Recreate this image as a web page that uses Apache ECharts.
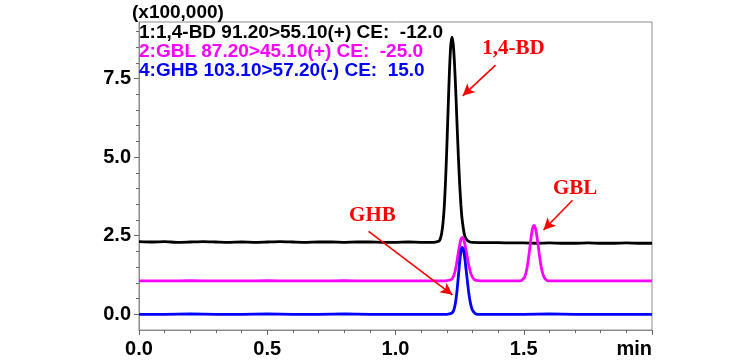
<!DOCTYPE html>
<html><head><meta charset="utf-8">
<script src="https://cdn.jsdelivr.net/npm/echarts@6/dist/echarts.min.js"></script>
<style>html,body{margin:0;padding:0;background:#fff}#c{width:756px;height:360px}</style>
</head><body><div id="c"></div>
<script>
// ---- data (time in min, intensity in x100,000) ----
const bdTrace = [[0,2.31],[0.05,2.30],[0.1,2.31],[0.15,2.29],[0.2,2.30],[0.25,2.31],[0.3,2.30],[0.35,2.29],[0.4,2.30],[0.45,2.29],[0.5,2.30],[0.55,2.31],[0.6,2.30],[0.65,2.29],[0.7,2.30],[0.75,2.30],[0.8,2.29],[0.85,2.30],[0.9,2.30],[0.95,2.29],[1.0,2.29],[1.05,2.30],[1.1,2.29],[1.15,2.29],[1.17,2.33],[1.175,2.41],[1.18,2.58],[1.185,2.89],[1.19,3.41],[1.195,4.22],[1.2,5.28],[1.205,6.50],[1.21,7.66],[1.215,8.51],[1.22,8.82],[1.225,8.60],[1.23,7.98],[1.235,7.08],[1.24,6.04],[1.245,5.04],[1.25,4.17],[1.255,3.48],[1.26,3.00],[1.27,2.49],[1.28,2.35],[1.29,2.30],[1.3,2.29],[1.35,2.28],[1.4,2.28],[1.45,2.27],[1.5,2.27],[1.55,2.26],[1.6,2.27],[1.65,2.26],[1.7,2.26],[1.75,2.27],[1.8,2.26],[1.85,2.26],[1.9,2.27],[1.95,2.26],[2.0,2.26]];
const gblTrace = [[0,1.06],[0.1,1.06],[0.2,1.07],[0.3,1.06],[0.4,1.06],[0.5,1.07],[0.6,1.06],[0.7,1.06],[0.8,1.07],[0.9,1.06],[1.0,1.06],[1.1,1.06],[1.15,1.06],[1.2,1.07],[1.22,1.12],[1.225,1.19],[1.23,1.30],[1.235,1.47],[1.24,1.70],[1.245,1.96],[1.25,2.20],[1.255,2.38],[1.26,2.45],[1.265,2.40],[1.27,2.25],[1.275,2.04],[1.28,1.81],[1.285,1.59],[1.29,1.41],[1.295,1.27],[1.3,1.18],[1.31,1.09],[1.32,1.07],[1.35,1.06],[1.4,1.06],[1.45,1.06],[1.49,1.07],[1.5,1.14],[1.505,1.22],[1.51,1.36],[1.515,1.58],[1.52,1.87],[1.525,2.20],[1.53,2.52],[1.535,2.75],[1.54,2.83],[1.545,2.76],[1.55,2.55],[1.555,2.26],[1.56,1.95],[1.565,1.66],[1.57,1.43],[1.575,1.27],[1.58,1.17],[1.59,1.08],[1.6,1.06],[1.65,1.06],[1.7,1.06],[1.8,1.06],[1.9,1.06],[2.0,1.06]];
const ghbTrace = [[0,0.00],[0.1,0.00],[0.2,0.01],[0.3,0.00],[0.4,0.00],[0.5,0.01],[0.6,0.00],[0.7,0.00],[0.8,0.01],[0.9,0.00],[1.0,0.00],[1.1,0.00],[1.15,0.00],[1.2,0.00],[1.21,0.01],[1.22,0.04],[1.225,0.09],[1.23,0.21],[1.235,0.43],[1.24,0.77],[1.245,1.20],[1.25,1.65],[1.255,2.00],[1.26,2.13],[1.265,2.04],[1.27,1.79],[1.275,1.44],[1.28,1.07],[1.285,0.72],[1.29,0.45],[1.295,0.26],[1.3,0.13],[1.31,0.03],[1.32,0.00],[1.4,0.00],[1.5,0.00],[1.6,0.01],[1.7,0.00],[1.8,0.00],[1.9,0.00],[2.0,0.00]];
const yTickValues = [0, 2.5, 5.0, 7.5];
const yMinorValues = [0, 0.5, 1, 1.5, 2, 2.5, 3, 3.5, 4, 4.5, 5, 5.5, 6, 6.5, 7, 7.5, 8, 8.5, 9];
const xTickLabels = ['0.0', '0.5', '1.0', '1.5', 'min'];
const scaleText = '(x100,000)';
const channelLines = ['1:1,4-BD 91.20>55.10(+) CE:  -12.0', '2:GBL 87.20>45.10(+) CE:  -25.0', '4:GHB 103.10>57.20(-) CE:  15.0'];
const channelColors = ['#000000', '#ff00ff', '#0000ff'];
const annotations = [
  {name: '1,4-BD', text: [1.46, 8.44], from: [1.39, 7.93], to: [1.262, 6.95]},
  {name: 'GBL', text: [1.70, 4.0], from: [1.69, 3.63], to: [1.577, 2.68]},
  {name: 'GHB', text: [0.91, 3.15], from: [0.895, 2.64], to: [1.222, 0.62]}
];

const chart = echarts.init(document.getElementById('c'), null, {renderer: 'canvas'});
const F = '"Liberation Sans", Arial, sans-serif';
const FS = '"Liberation Serif", "Times New Roman", serif';

const markLineData = annotations.map(a => [
  {coord: a.from, symbol: 'none'},
  {coord: a.to, symbol: 'arrow', symbolSize: [9, 12]}
]);
const markPointData = annotations.map(a => ({coord: a.text, value: a.name}));

const option = {
  animation: false,
  backgroundColor: '#fff',
  grid: {left: 139, right: 104, top: 22, bottom: 30, show: true, borderColor: '#8c8c8c', borderWidth: 1, backgroundColor: 'transparent'},
  xAxis: {
    type: 'value', min: 0, max: 2, interval: 0.5,
    axisLine: {show: true, onZero: false, lineStyle: {color: '#8c8c8c', width: 1}},
    axisTick: {show: true, inside: false, length: 5, lineStyle: {color: '#666'}},
    minorTick: {show: true, splitNumber: 5, length: 3, lineStyle: {color: '#666'}},
    splitLine: {show: false},
    axisLabel: {
      show: true, showMaxLabel: true, showMinLabel: true, margin: 9, alignMaxLabel: 'right',
      color: '#000', fontFamily: F, fontWeight: 'bold', fontSize: 20,
      formatter: v => xTickLabels[Math.round(v / 0.5)]
    }
  },
  yAxis: [{
    type: 'value', min: -0.5, max: 9.3,
    axisLine: {show: true, onZero: false, lineStyle: {color: '#8c8c8c', width: 1}},
    axisTick: {show: true, length: 5, customValues: yTickValues, lineStyle: {color: '#666'}},
    splitLine: {show: false},
    axisLabel: {customValues: yTickValues, margin: 8, color: '#000', fontFamily: F, fontWeight: 'bold', fontSize: 20, formatter: v => v.toFixed(1)}
  }, {
    type: 'value', min: -0.5, max: 9.3, position: 'left',
    axisLine: {show: false},
    axisTick: {show: true, length: 3, customValues: yMinorValues, lineStyle: {color: '#666'}},
    splitLine: {show: false},
    axisLabel: {show: false}
  }],
  series: [
    {type: 'line', data: bdTrace, showSymbol: false, symbol: 'none', smooth: 0.2, lineStyle: {color: channelColors[0], width: 2.8}, z: 2},
    {type: 'line', data: gblTrace, showSymbol: false, symbol: 'none', smooth: 0.2, lineStyle: {color: channelColors[1], width: 2.8}, z: 3},
    {type: 'line', data: ghbTrace, showSymbol: false, symbol: 'none', smooth: 0.2, lineStyle: {color: channelColors[2], width: 2.8}, z: 4,
      markLine: {silent: true, animation: false, label: {show: false}, lineStyle: {color: '#ff0000', width: 1.6, type: 'solid'}, itemStyle: {color: '#ff0000'}, emphasis: {disabled: true}, data: markLineData},
      markPoint: {silent: true, symbol: 'circle', symbolSize: 0, data: markPointData,
        label: {show: true, position: 'inside', formatter: p => p.value, color: '#ff0000', fontFamily: FS, fontWeight: 'bold', fontSize: 21}}
    }
  ],
  graphic: [
    {type: 'text', left: 132, top: 3, style: {text: scaleText, fill: '#000', font: 'bold 19px ' + F}},
    ...channelLines.map((t, i) => ({type: 'text', left: 139, top: 23 + i * 19, style: {text: t, fill: channelColors[i], font: 'bold 19px ' + F}, z: 10}))
  ]
};
chart.setOption(option);
</script>
</body></html>
